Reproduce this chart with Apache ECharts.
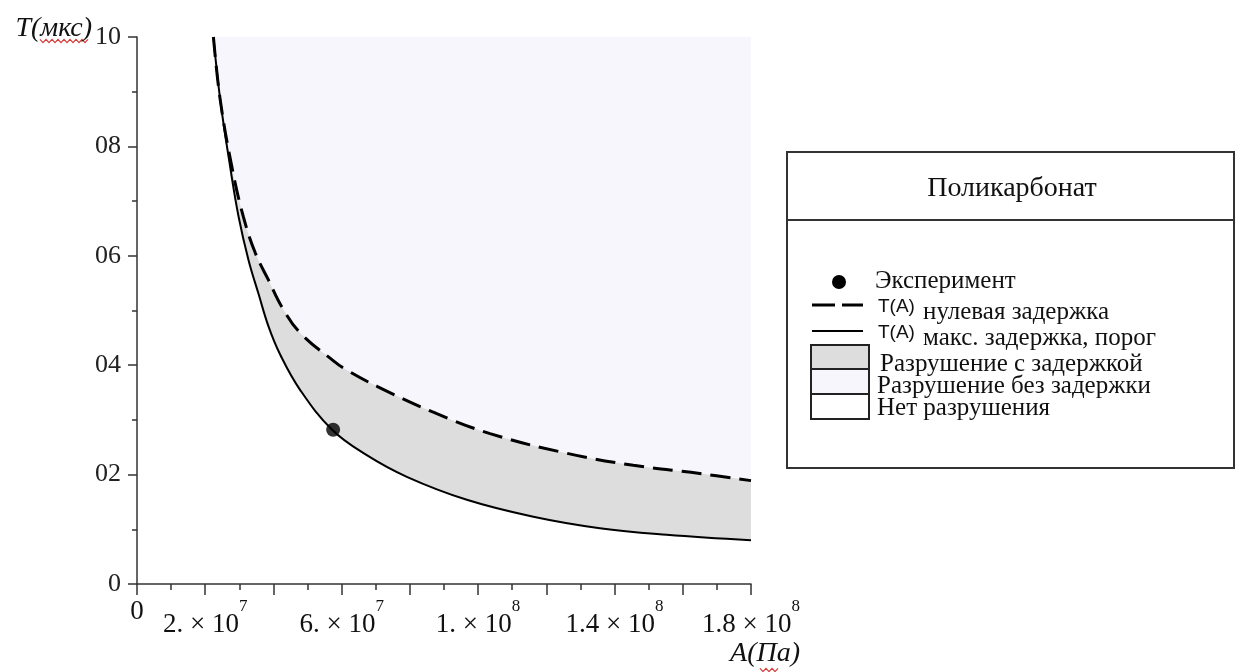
<!DOCTYPE html>
<html>
<head>
<meta charset="utf-8">
<script src="https://cdn.jsdelivr.net/npm/echarts@6/dist/echarts.min.js"></script>
<style>
  html, body { margin: 0; padding: 0; background: #fff; }
  #chart { width: 1235px; height: 672px; }
</style>
</head>
<body>
<div id="chart"></div>
<script>
// ---- data ----
// T(A) threshold curve (max delay, solid)
const A_threshold = [2.24e7, 2.44e7, 2.73e7, 2.98e7, 3.27e7, 3.56e7, 3.86e7, 4.2e7, 4.78e7, 5.72e7, 6.7e7, 7.91e7, 9.67e7, 11.62e7, 13.57e7, 15.53e7, 18.0e7];
const T_threshold = [10, 8.85, 7.63, 6.71, 5.92, 5.31, 4.70, 4.19, 3.55, 2.82, 2.37, 1.96, 1.54, 1.23, 1.02, 0.90, 0.80];
// T(A) zero delay curve (dashed)
const A_zero = [2.24e7, 2.44e7, 2.78e7, 3.12e7, 3.47e7, 3.86e7, 4.28e7, 4.8e7, 5.76e7, 6.15e7, 7.05e7, 8.65e7, 10.35e7, 12.6e7, 14.55e7, 16.5e7, 18.0e7];
const T_zero = [10, 8.85, 7.63, 6.71, 6.05, 5.55, 5.03, 4.58, 4.08, 3.91, 3.61, 3.15, 2.75, 2.39, 2.17, 2.02, 1.89];
// experiment
const A_exp = [5.75e7];
const T_exp = [2.82];

// axis tick labels
const xLabelValues = [0, 2e7, 6e7, 1e8, 1.4e8, 1.8e8];
const xLabelTexts = ['{z|0}', '{m|2. × 10}{s|7}', '{m|6. × 10}{s|7}', '{m|1. × 10}{s|8}', '{m|1.4 × 10}{s|8}', '{m|1.8 × 10}{s|8}'];
const yLabelValues = [0, 2, 4, 6, 8, 10];
const yLabelTexts = ['0', '02', '04', '06', '08', '10'];

// texts
const yName = 'T(мкс)';
const xName = 'A(Па)';
const legendTitle = 'Поликарбонат';
const legendExp = 'Эксперимент';
const legendTA = 'T(A)';
const legendZero = 'нулевая задержка';
const legendThr = 'макс. задержка, порог';
const legendRegions = ['Разрушение с задержкой', 'Разрушение без задержки', 'Нет разрушения'];

// colors
const C_LAV = '#f8f6fd';
const C_GRAY = '#dddddd';
const C_INK = '#111';

const zip = (xs, ys) => xs.map((x, i) => [x, ys[i]]);
const serif = 'Liberation Serif';

const chart = echarts.init(document.getElementById('chart'), null, { renderer: 'canvas' });

function squiggle(x0, x1, y, amp, step) {
  const pts = [];
  let k = 0;
  for (let x = x0; x <= x1; x += step) { pts.push([x, y + (k % 2 ? amp : -amp)]); k++; }
  return pts;
}

const regionFills = [C_GRAY, C_LAV, '#ffffff'];

function txt(x, y, text, font, align) {
  return { type: 'text', x: x, y: y, style: { text: text, font: font, fill: C_INK, textAlign: align || 'left', textVerticalAlign: 'middle', align: align || 'left', verticalAlign: 'middle' } };
}

const graphic = [
  // red spell-check squiggles
  { type: 'polyline', shape: { points: squiggle(40, 88, 41, 1.6, 3) }, style: { stroke: '#d83a3a', lineWidth: 1.2, fill: null }, silent: true },
  { type: 'polyline', shape: { points: squiggle(760, 778, 670, 1.6, 3) }, style: { stroke: '#d83a3a', lineWidth: 1.2, fill: null }, silent: true },
  // legend frame
  { type: 'rect', shape: { x: 787, y: 152, width: 447, height: 316 }, style: { fill: '#fff', stroke: '#333', lineWidth: 2 } },
  { type: 'line', shape: { x1: 787, y1: 220, x2: 1234, y2: 220 }, style: { stroke: '#333', lineWidth: 2 } },
  txt(1012, 189, legendTitle, '28px "Liberation Serif"', 'center'),
  // experiment
  { type: 'circle', shape: { cx: 839, cy: 282, r: 7 }, style: { fill: '#000' } },
  txt(875, 281, legendExp, '25px "Liberation Serif"'),
  // dashed
  { type: 'line', shape: { x1: 812, y1: 305, x2: 863, y2: 305 }, style: { stroke: '#000', lineWidth: 3, lineDash: [23, 7] } },
  txt(878, 307, legendTA, '19px "Liberation Sans"'),
  txt(923, 312, legendZero, '25px "Liberation Serif"'),
  // solid
  { type: 'line', shape: { x1: 812, y1: 331, x2: 863, y2: 331 }, style: { stroke: '#000', lineWidth: 2 } },
  txt(878, 333, legendTA, '19px "Liberation Sans"'),
  txt(923, 338, legendThr, '25px "Liberation Serif"'),
  // region boxes
  { type: 'rect', shape: { x: 811, y: 345, width: 58, height: 24 }, style: { fill: regionFills[0], stroke: '#222', lineWidth: 2 } },
  { type: 'rect', shape: { x: 811, y: 369, width: 58, height: 25 }, style: { fill: regionFills[1], stroke: '#222', lineWidth: 2 } },
  { type: 'rect', shape: { x: 811, y: 394, width: 58, height: 25 }, style: { fill: regionFills[2], stroke: '#222', lineWidth: 2 } },
  txt(880, 364, legendRegions[0], '25px "Liberation Serif"'),
  txt(877, 386, legendRegions[1], '25px "Liberation Serif"'),
  txt(877, 408, legendRegions[2], '25px "Liberation Serif"')
];

const SMOOTH = 0.4;
const curveCommon = { type: 'line', showSymbol: false, symbol: 'none', smooth: SMOOTH, animation: false, silent: true };

const option = {
  backgroundColor: '#fff',
  animation: false,
  grid: { left: 137, right: 484, top: 37, bottom: 88, containLabel: false },
  xAxis: {
    type: 'value', min: 0, max: 1.8e8, interval: 2e7,
    name: xName, nameLocation: 'end', nameGap: 49, nameMoveOverlap: false,
    nameTextStyle: { fontFamily: serif, fontStyle: 'italic', fontSize: 28, color: C_INK, align: 'right', verticalAlign: 'top', padding: [56, 0, 0, 0] },
    axisLine: { show: true, onZero: false, lineStyle: { color: '#333', width: 1.5 } },
    axisTick: { show: true, inside: false, length: 11, lineStyle: { color: '#333', width: 1.5 } },
    minorTick: { show: true, splitNumber: 2, length: 6, lineStyle: { color: '#333', width: 1.5 } },
    splitLine: { show: false },
    minorSplitLine: { show: false },
    axisLabel: {
      show: true, margin: 14, color: C_INK, fontFamily: serif, fontSize: 27,
      showMinLabel: true, showMaxLabel: true, hideOverlap: false,
      formatter: (v) => { const i = xLabelValues.findIndex(t => Math.abs(t - v) < 1); return i >= 0 ? xLabelTexts[i] : ''; },
      rich: {
        z: { fontFamily: serif, fontSize: 27, color: C_INK },
        m: { fontFamily: serif, fontSize: 27, color: C_INK, padding: [13, 0, 0, 0] },
        s: { fontFamily: serif, fontSize: 17, color: C_INK, verticalAlign: 'top' }
      }
    }
  },
  yAxis: {
    type: 'value', min: 0, max: 10, interval: 2,
    name: yName, nameLocation: 'end', nameGap: 8, nameMoveOverlap: false,
    nameTextStyle: { fontFamily: serif, fontStyle: 'italic', fontSize: 28, color: C_INK, align: 'right', verticalAlign: 'middle', padding: [0, 45, 0, 0] },
    axisLine: { show: true, onZero: false, lineStyle: { color: '#333', width: 1.5 } },
    axisTick: { show: true, inside: false, length: 9, lineStyle: { color: '#333', width: 1.5 } },
    minorTick: { show: true, splitNumber: 2, length: 5, lineStyle: { color: '#333', width: 1.5 } },
    splitLine: { show: false },
    minorSplitLine: { show: false },
    axisLabel: {
      show: true, margin: 16, color: '#222', fontFamily: serif, fontSize: 26,
      showMinLabel: true, showMaxLabel: true,
      formatter: (v) => { const i = yLabelValues.indexOf(Math.round(v)); return i >= 0 ? yLabelTexts[i] : ''; }
    }
  },
  series: [
    // region between curves (failure with delay): fill from threshold curve up to the top
    Object.assign({}, curveCommon, { name: 'grayFill', z: 1, data: zip(A_threshold, T_threshold), lineStyle: { width: 0, opacity: 0 }, areaStyle: { color: C_GRAY, opacity: 1, origin: 'end' } }),
    // region above zero-delay curve (failure without delay)
    Object.assign({}, curveCommon, { name: 'lavFill', z: 2, data: zip(A_zero, T_zero), lineStyle: { width: 0, opacity: 0 }, areaStyle: { color: C_LAV, opacity: 1, origin: 'end' } }),
    // curves
    Object.assign({}, curveCommon, { name: 'T(A) нулевая задержка', z: 5, data: zip(A_zero, T_zero), lineStyle: { color: '#000', width: 3, type: [20, 9] } }),
    Object.assign({}, curveCommon, { name: 'T(A) макс. задержка, порог', z: 6, data: zip(A_threshold, T_threshold), lineStyle: { color: '#000', width: 2 } }),
    { name: 'Эксперимент', type: 'scatter', z: 7, symbol: 'circle', symbolSize: 14, itemStyle: { color: '#000' }, data: zip(A_exp, T_exp), silent: true, animation: false }
  ],
  graphic: graphic
};

chart.setOption(option);
</script>
</body>
</html>
